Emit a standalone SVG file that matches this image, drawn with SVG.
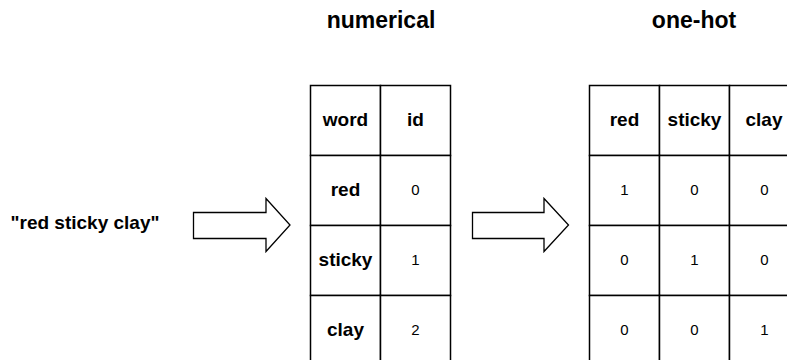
<svg xmlns="http://www.w3.org/2000/svg" width="787" height="360" viewBox="0 0 787 360">
<style>
.cell{fill:#fff;stroke:#000;stroke-width:1.5}
.arrow{fill:#fff;stroke:#000;stroke-width:1.3;stroke-linejoin:miter}
.b{font-family:"Liberation Sans",Arial,sans-serif;font-weight:bold;font-size:19px;fill:#000;text-anchor:middle}
.t{font-family:"Liberation Sans",Arial,sans-serif;font-weight:bold;font-size:23px;fill:#000;text-anchor:middle}
.n{font-family:"Liberation Sans",Arial,sans-serif;font-size:15px;fill:#000;text-anchor:middle}
</style>
<rect width="787" height="360" fill="#fff"/>
<text class="t" x="381" y="28">numerical</text>
<text class="t" x="694" y="28">one-hot</text>
<g id="input">
<text class="b" x="85" y="229">"red sticky clay"</text>
</g>
<g id="connectors">
<path class="arrow" d="M193.5,212.5 H266 V198.5 L290,225 L266,251.5 V238.5 H193.5 Z"/>
<path class="arrow" d="M472.5,212.5 H544 V198.5 L568.5,225 L544,251.5 V238.5 H472.5 Z"/>
</g>
<g id="numerical-table">
<rect class="cell" x="310.5" y="85.5" width="70" height="70"/>
<rect class="cell" x="380.5" y="85.5" width="70" height="70"/>
<rect class="cell" x="310.5" y="155.5" width="70" height="70"/>
<rect class="cell" x="380.5" y="155.5" width="70" height="70"/>
<rect class="cell" x="310.5" y="225.5" width="70" height="70"/>
<rect class="cell" x="380.5" y="225.5" width="70" height="70"/>
<rect class="cell" x="310.5" y="295.5" width="70" height="70"/>
<rect class="cell" x="380.5" y="295.5" width="70" height="70"/>
<text class="b" x="345.5" y="125.5">word</text>
<text class="b" x="415.5" y="125.5">id</text>
<text class="b" x="345.5" y="195.5">red</text>
<text class="n" x="415.5" y="194.5">0</text>
<text class="b" x="345.5" y="265.5">sticky</text>
<text class="n" x="415.5" y="264.5">1</text>
<text class="b" x="345.5" y="335.5">clay</text>
<text class="n" x="415.5" y="334.5">2</text>
</g>
<g id="onehot-table">
<rect class="cell" x="589.5" y="85.5" width="70" height="70"/>
<rect class="cell" x="659.5" y="85.5" width="70" height="70"/>
<rect class="cell" x="729.5" y="85.5" width="70" height="70"/>
<rect class="cell" x="589.5" y="155.5" width="70" height="70"/>
<rect class="cell" x="659.5" y="155.5" width="70" height="70"/>
<rect class="cell" x="729.5" y="155.5" width="70" height="70"/>
<rect class="cell" x="589.5" y="225.5" width="70" height="70"/>
<rect class="cell" x="659.5" y="225.5" width="70" height="70"/>
<rect class="cell" x="729.5" y="225.5" width="70" height="70"/>
<rect class="cell" x="589.5" y="295.5" width="70" height="70"/>
<rect class="cell" x="659.5" y="295.5" width="70" height="70"/>
<rect class="cell" x="729.5" y="295.5" width="70" height="70"/>
<text class="b" x="624.5" y="125.5">red</text>
<text class="b" x="694.5" y="125.5">sticky</text>
<text class="b" x="764" y="125.5">clay</text>
<text class="n" x="624.5" y="194.5">1</text>
<text class="n" x="694.5" y="194.5">0</text>
<text class="n" x="764.5" y="194.5">0</text>
<text class="n" x="624.5" y="264.5">0</text>
<text class="n" x="694.5" y="264.5">1</text>
<text class="n" x="764.5" y="264.5">0</text>
<text class="n" x="624.5" y="334.5">0</text>
<text class="n" x="694.5" y="334.5">0</text>
<text class="n" x="764.5" y="334.5">1</text>
</g>
</svg>
